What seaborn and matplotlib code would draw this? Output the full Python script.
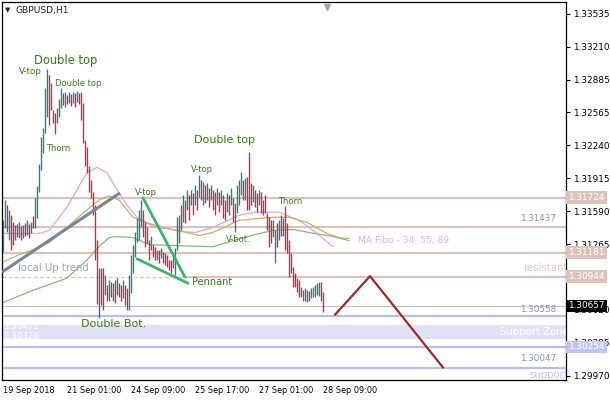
"""
GBPUSD H1 chart with pattern marks, MA Fibo lines and support / resistance levels
"""
import numpy as np
import pandas as pd
import matplotlib
matplotlib.use('Agg')
import matplotlib.pyplot as plt
import matplotlib.transforms as mtransforms
import seaborn as sns

# bar highs / lows
highs = [
    1.3150, 1.3170, 1.3165, 1.3160, 1.3155, 1.3148, 1.3145, 1.3146, 1.3148, 1.3144,
    1.3145, 1.3147, 1.3150, 1.3146, 1.3148, 1.3154, 1.3172, 1.3184, 1.3205, 1.3232,
    1.3241, 1.3280, 1.3299, 1.3293, 1.3285, 1.3259, 1.3256, 1.3261, 1.3269, 1.3280,
    1.3275, 1.3276, 1.3273, 1.3276, 1.3274, 1.3276, 1.3275, 1.3277, 1.3275, 1.3276,
    1.3266, 1.3229, 1.3222, 1.3203, 1.3190, 1.3178, 1.3165, 1.3131, 1.3103, 1.3103,
    1.3103, 1.3096, 1.3086, 1.3091, 1.3089, 1.3088, 1.3091, 1.3093, 1.3088, 1.3086,
    1.3091, 1.3086, 1.3083, 1.3096, 1.3116, 1.3126, 1.3138, 1.3152, 1.3160, 1.3170,
    1.3160, 1.3148, 1.3143, 1.3131, 1.3135, 1.3126, 1.3124, 1.3121, 1.3121, 1.3123,
    1.3119, 1.3118, 1.3116, 1.3111, 1.3111, 1.3116, 1.3123, 1.3153, 1.3155, 1.3165,
    1.3175, 1.3170, 1.3180, 1.3175, 1.3180, 1.3177, 1.3185, 1.3180, 1.3195, 1.3190,
    1.3188, 1.3185, 1.3187, 1.3182, 1.3185, 1.3180, 1.3178, 1.3182, 1.3178, 1.3180,
    1.3175, 1.3170, 1.3177, 1.3175, 1.3182, 1.3172, 1.3167, 1.3185, 1.3190, 1.3198,
    1.3190, 1.3192, 1.3193, 1.3217, 1.3187, 1.3185, 1.3180, 1.3177, 1.3180, 1.3178,
    1.3170, 1.3175, 1.3157, 1.3153, 1.3150, 1.3150, 1.3140, 1.3147, 1.3150, 1.3155,
    1.3152, 1.3164, 1.3147, 1.3131, 1.3118, 1.3104, 1.3098, 1.3093, 1.3091, 1.3084,
    1.3081, 1.3083, 1.3081, 1.3080, 1.3083, 1.3084, 1.3086, 1.3088, 1.3089, 1.3089,
    1.3079,
]
lows = [
    1.3119, 1.3142, 1.3138, 1.3131, 1.3121, 1.3126, 1.3131, 1.3134, 1.3133, 1.3131,
    1.3133, 1.3135, 1.3136, 1.3133, 1.3137, 1.3142, 1.3142, 1.3152, 1.3178, 1.3200,
    1.3216, 1.3236, 1.3252, 1.3244, 1.3259, 1.3246, 1.3235, 1.3246, 1.3252, 1.3261,
    1.3264, 1.3262, 1.3265, 1.3266, 1.3263, 1.3266, 1.3262, 1.3267, 1.3265, 1.3249,
    1.3226, 1.3203, 1.3197, 1.3178, 1.3172, 1.3155, 1.3111, 1.3068, 1.3054, 1.3067,
    1.3062, 1.3076, 1.3071, 1.3071, 1.3074, 1.3071, 1.3069, 1.3076, 1.3074, 1.3071,
    1.3073, 1.3067, 1.3062, 1.3062, 1.3078, 1.3098, 1.3114, 1.3129, 1.3131, 1.3143,
    1.3134, 1.3124, 1.3128, 1.3111, 1.3121, 1.3114, 1.3111, 1.3111, 1.3108, 1.3113,
    1.3108, 1.3106, 1.3104, 1.3101, 1.3098, 1.3103, 1.3096, 1.3121, 1.3128, 1.3140,
    1.3148, 1.3147, 1.3160, 1.3150, 1.3165, 1.3155, 1.3165, 1.3160, 1.3173, 1.3170,
    1.3165, 1.3167, 1.3170, 1.3163, 1.3170, 1.3160, 1.3155, 1.3165, 1.3158, 1.3165,
    1.3152, 1.3150, 1.3158, 1.3155, 1.3165, 1.3148, 1.3138, 1.3157, 1.3165, 1.3175,
    1.3170, 1.3170, 1.3160, 1.3160, 1.3165, 1.3168, 1.3163, 1.3158, 1.3165, 1.3157,
    1.3155, 1.3157, 1.3140, 1.3124, 1.3128, 1.3134, 1.3108, 1.3124, 1.3131, 1.3135,
    1.3135, 1.3121, 1.3118, 1.3094, 1.3098, 1.3084, 1.3084, 1.3079, 1.3074, 1.3074,
    1.3071, 1.3071, 1.3070, 1.3071, 1.3073, 1.3074, 1.3074, 1.3076, 1.3075, 1.3071,
    1.3060,
]
# u = bull bar, d = bear bar
dirs = ("uududdudud" "udududuuuu" "uuudddduuu" "dududududd" "ddddddddud"
        "dududududd" "udduuuuuuu" "dddduddudu" "ddddduuuud" "ududududud"
        "udududdudu" "ddududuuuu" "duddduddud" "ddddduudud" "uddddddddu"
        "ududuuuuudd")

# moving averages (34 / 55 / 89), sampled along the lines
ma34_x = [0, 8, 18, 23, 27, 32, 37, 42, 47, 52, 57, 62, 67, 73, 81, 88, 96, 105, 118, 126, 133, 138, 148, 155, 165]
ma34_y = [1.3137, 1.3137, 1.3137, 1.3140, 1.3150, 1.3163, 1.3180, 1.3197, 1.3202, 1.3197, 1.3180, 1.3165, 1.3153,
          1.3147, 1.3143, 1.3139, 1.3138, 1.3143, 1.3155, 1.3158, 1.3158, 1.3158, 1.3150, 1.3140, 1.3124]
ma55_x = [0, 8, 15, 23, 32, 40, 48, 53, 58, 65, 77, 88, 98, 105, 118, 135, 143, 152, 162, 168, 173]
ma55_y = [1.3109, 1.3116, 1.3121, 1.3128, 1.3143, 1.3157, 1.3170, 1.3174, 1.3170, 1.3153, 1.3143, 1.3140, 1.3135,
          1.3138, 1.3150, 1.3153, 1.3153, 1.3148, 1.3137, 1.3133, 1.3132]
ma89_x = [0, 15, 32, 42, 48, 53, 57, 65, 73, 88, 105, 122, 135, 145, 153, 165, 173]
ma89_y = [1.3069, 1.3081, 1.3093, 1.3111, 1.3124, 1.3133, 1.3134, 1.3133, 1.3126, 1.3125, 1.3124, 1.3134, 1.3140,
          1.3141, 1.3138, 1.3134, 1.3130]

# drawn objects
trend_x = [-0.5, 58.5]
trend_y = [1.3099, 1.3177]
pennant_hi_x = [70, 91]
pennant_hi_y = [1.3172, 1.3094]
pennant_lo_x = [67, 92.5]
pennant_lo_y = [1.3112, 1.3088]
zigzag_x = [166, 183.5, 220]
zigzag_y = [1.3057, 1.3095, 1.3005]

resist_levels = [1.31724, 1.31437, 1.31181]
resistant = 1.30944
support_levels = [1.30558, 1.30254, 1.30047]
zone_lo, zone_hi = 1.30326, 1.30472
bid = 1.30657

price_ticks = [1.33535, 1.33210, 1.32885, 1.32565, 1.32240, 1.31915, 1.31590,
               1.31265, 1.30620, 1.30295, 1.29970]
time_ticks = [0, 32, 64, 96, 128, 160]
time_labels = ['19 Sep 2018', '21 Sep 01:00', '24 Sep 09:00', '25 Sep 17:00',
               '27 Sep 01:00', '28 Sep 09:00']

UP = '#12887f'
DOWN = '#e6174b'
PINK = '#dcc3bc'
BLUE = '#b9bdf1'
LABEL = '#3a7a1a'

sns.set_style('white')
plt.rcParams['font.family'] = ['DejaVu Sans']

fig = plt.figure(figsize=(6.1, 4.0), dpi=100)
ax = fig.add_axes([2 / 610, 20 / 400, 564 / 610, 378 / 400])
ax.set_xlim(-0.5, 281.5)
ax.set_ylim(1.29927, 1.33650)

# levels
for lv in resist_levels:
    ax.axhline(lv, color=PINK, lw=1.6, zorder=1)
ax.plot([-0.5, 90], [resistant, resistant], color=PINK, lw=0.9, ls=(0, (3, 2)), zorder=1)
ax.plot([90, 281.5], [resistant, resistant], color=PINK, lw=1.6, zorder=1)
ax.axhspan(zone_lo, zone_hi, color='#e1e2f8', lw=0, zorder=0)
for lv in support_levels:
    ax.axhline(lv, color=BLUE, lw=1.6, zorder=1)
ax.axhline(bid, color='#c4c4c4', lw=0.8, zorder=1)

# moving averages
ma = pd.concat([
    pd.DataFrame({'bar': ma34_x, 'price': ma34_y, 'ma': 'MA34'}),
    pd.DataFrame({'bar': ma55_x, 'price': ma55_y, 'ma': 'MA55'}),
    pd.DataFrame({'bar': ma89_x, 'price': ma89_y, 'ma': 'MA89'}),
])
sns.lineplot(data=ma, x='bar', y='price', hue='ma', sort=False, estimator=None,
             palette={'MA34': '#e2a2e2', 'MA55': '#c2b464', 'MA89': '#86b878'},
             lw=0.9, legend=False, ax=ax, zorder=2)

# bars
bars = pd.DataFrame({'bar': np.arange(len(highs)), 'high': highs, 'low': lows,
                     'dir': list(dirs[:len(highs)])})
for d, g in bars.groupby('dir'):
    ax.vlines(g['bar'], g['low'], g['high'], color=UP if d == 'u' else DOWN, lw=0.95, zorder=3)

# drawn lines
ax.plot(trend_x, trend_y, color='#7a8598', lw=2.2, zorder=4, solid_capstyle='butt')
ax.plot(pennant_hi_x, pennant_hi_y, color='#3db56e', lw=2.0, zorder=4)
ax.plot(pennant_lo_x, pennant_lo_y, color='#3db56e', lw=2.0, zorder=4)
ax.plot(zigzag_x, zigzag_y, color='#a42626', lw=1.6, zorder=4)

# pattern labels
def label(x, y, s, size, ha='center', color=LABEL):
    ax.text(x, y, s, fontsize=size, color=color, ha=ha, va='center', zorder=5)

label(31.5, 1.3307, 'Double top', 8.3)
label(13.5, 1.3297, 'V-top', 6.3)
label(37.5, 1.3285, 'Double top', 6.0)
label(27.5, 1.3221, 'Thorn', 6.0)
label(110.5, 1.3229, 'Double top', 8.0)
label(99.5, 1.3200, 'V-top', 6.0)
label(71.5, 1.3177, 'V-top', 6.0)
label(117.5, 1.3131, 'V-bot.', 6.0)
label(143.5, 1.3169, 'Thorn', 6.0)
label(94.5, 1.3089, 'Pennant', 7.0, ha='left')
label(55.5, 1.3048, 'Double Bot.', 8.0)
label(7.5, 1.3103, 'local Up trend', 7.3, ha='left', color='#9aa3b8')
label(177.5, 1.3130, 'MA Fibo - 34; 55; 89', 6.6, ha='left', color='#e6b0e6')

# level captions
cap = dict(ha='right', va='center', zorder=5, clip_on=True)
ax.text(276.5, 1.3152, '1.31437', fontsize=6.3, color='#8894a6', **cap)
ax.text(282.5, 1.3103, 'resistant', fontsize=7.3, color='#e2c6c0', **cap)
ax.text(276.5, 1.3062, '1.30558', fontsize=6.3, color='#8894a6', **cap)
ax.text(283.0, 1.3040, 'Support Zone', fontsize=7.3, color='white', **cap)
ax.text(276.5, 1.3014, '1.30047', fontsize=6.3, color='#8894a6', **cap)
ax.text(282.5, 1.2998, 'support', fontsize=7.3, color='#c2c2f2', **cap)
ax.text(0, 1.3045, '1.30472', fontsize=6.3, color='white', ha='left', va='center', zorder=5)
ax.text(0, 1.3036, '1.30326', fontsize=6.3, color='white', ha='left', va='center', zorder=5)

# axes
for sp in ax.spines.values():
    sp.set_color('black')
    sp.set_linewidth(0.9)
ax.yaxis.tick_right()
ax.set_yticks(price_ticks)
ax.set_yticklabels([f'{p:.5f}' for p in price_ticks])
ax.set_xticks(time_ticks)
ax.set_xticklabels(time_labels, ha='left')
ax.tick_params(axis='both', length=3, width=0.8, direction='out',
               color='black', labelcolor='black')
ax.tick_params(axis='y', labelsize=6.4, pad=2)
ax.tick_params(axis='x', labelsize=5.9, pad=1.5)
ax.set_xlabel('')
ax.set_ylabel('')

# price boxes on the scale
trans = mtransforms.blended_transform_factory(ax.transAxes, ax.transData)
boxes = [(1.31724, PINK, 'white'), (1.31181, PINK, 'white'), (1.30944, PINK, 'white'),
         (1.30657, 'black', 'white'), (1.30254, '#c2c5f4', 'white')]
for p, bg, fg in boxes:
    ax.text(1.004, p, f'{p:.5f}', transform=trans, fontsize=6.4, color=fg, ha='left', va='center',
            bbox=dict(boxstyle='square,pad=0.2', facecolor=bg, edgecolor='none'), zorder=6, clip_on=False)

# shift marker and title
ax.plot([162], [0.988], transform=mtransforms.blended_transform_factory(ax.transData, ax.transAxes),
        marker='v', ms=5, color='#a8a8a8', clip_on=False, zorder=6)
fig.text(5 / 610, 1 - 10 / 400, '\u25BC', fontsize=5, va='center', ha='left')
fig.text(16 / 610, 1 - 10 / 400, 'GBPUSD,H1', fontsize=6.6, va='center', ha='left')

fig.savefig('out.png', dpi=100, facecolor='white')
